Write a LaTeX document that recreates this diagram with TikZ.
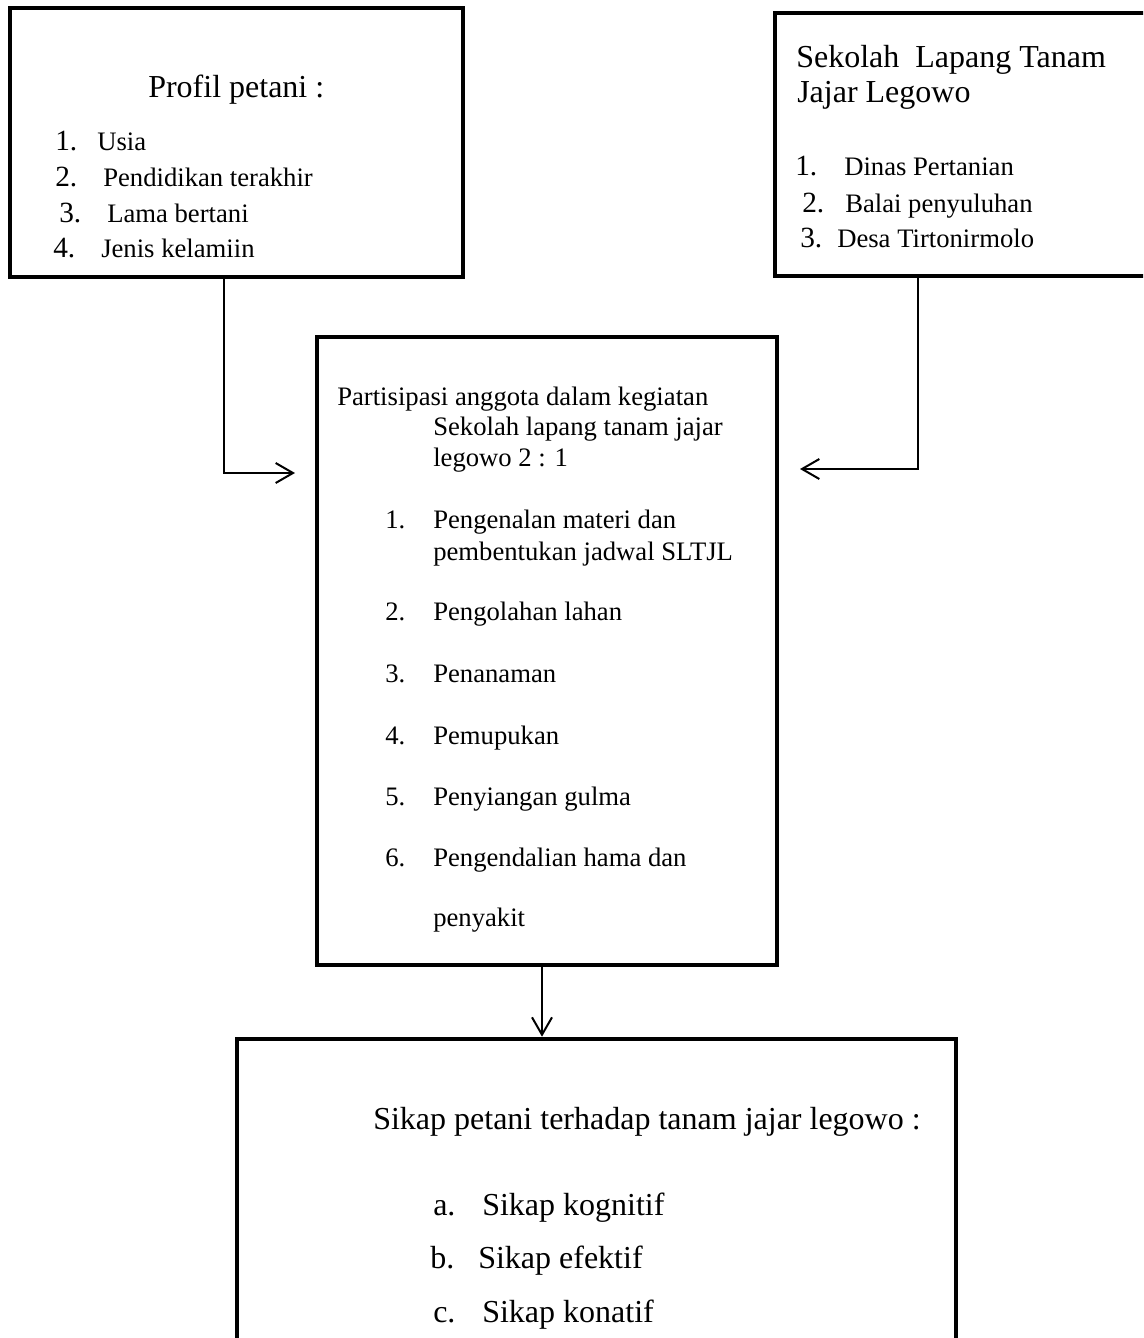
\documentclass[tikz,border=0pt]{standalone}
\usepackage{fontspec}
\setmainfont{Liberation Serif}
\usetikzlibrary{arrows.meta}
\newlength{\pu}\setlength{\pu}{0.75pt}
\tikzset{
  box/.style={draw, line width=3.5pt, inner sep=0pt},
  conn/.style={line width=1.5pt, -{Straight Barb[length=13pt,width=15pt]}},
  hd/.style={anchor=base west, inner sep=0pt, font=\fontsize{24}{28}\selectfont},
  tx/.style={anchor=base west, inner sep=0pt, font=\fontsize{20}{24}\selectfont},
  num/.style={anchor=base west, inner sep=0pt, font=\fontsize{22}{26}\selectfont}
}
\begin{document}
\begin{tikzpicture}[x=0.75pt,y=-0.75pt]
\useasboundingbox (0,0) rectangle (1143,1338);
\clip (0,0) rectangle (1143,1338);
\fill[white] (0,0) rectangle (1143,1338);

% boxes
\node[box, minimum width=453\pu, minimum height=269\pu] (b1) at (236.5,142.5) {};
\node[box, minimum width=385\pu, minimum height=263\pu] (b2) at (967.5,144.5) {};
\node[box, minimum width=460\pu, minimum height=628\pu] (b3) at (547,651) {};
\node[box, minimum width=719\pu, minimum height=321\pu] (b4) at (596.5,1199.5) {};

% box 1 text
\node[hd] (h1) at (148,98) {Profil petani :};
\node[num] (n11) at (55,150) {1.};
\node[tx] (t11) at (97,150) {Usia};
\node[num] (n12) at (55,186) {2.};
\node[tx] (t12) at (103,186) {Pendidikan terakhir};
\node[num] (n13) at (59,222) {3.};
\node[tx] (t13) at (107,222) {Lama bertani};
\node[num] (n14) at (53,257) {4.};
\node[tx] (t14) at (101,257) {Jenis kelamiin};

% box 2 text
\node[hd] (h2a) at (796,68) {Sekolah\ \ Lapang Tanam};
\node[hd] (h2b) at (797,103) {Jajar Legowo};
\node[num] (n21) at (795,175) {1.};
\node[tx] (t21) at (844,175) {Dinas Pertanian};
\node[num] (n22) at (802,212) {2.};
\node[tx] (t22) at (845,212) {Balai penyuluhan};
\node[num] (n23) at (800,247) {3.};
\node[tx] (t23) at (837,247) {Desa Tirtonirmolo};

% box 3 text
\node[tx] (h3a) at (337,405) {Partisipasi anggota dalam kegiatan};
\node[tx] (h3b) at (433,435) {Sekolah lapang tanam jajar};
\node[tx] (h3c) at (433,466) {legowo 2 : 1};
\node[tx] (n31) at (385,528) {1.};
\node[tx] (t31a) at (433,528) {Pengenalan materi dan};
\node[tx] (t31b) at (433,560) {pembentukan jadwal SLTJL};
\node[tx] (n32) at (385,620) {2.};
\node[tx] (t32) at (433,620) {Pengolahan lahan};
\node[tx] (n33) at (385,682) {3.};
\node[tx] (t33) at (433,682) {Penanaman};
\node[tx] (n34) at (385,744) {4.};
\node[tx] (t34) at (433,744) {Pemupukan};
\node[tx] (n35) at (385,805) {5.};
\node[tx] (t35) at (433,805) {Penyiangan gulma};
\node[tx] (n36) at (385,866) {6.};
\node[tx] (t36a) at (433,866) {Pengendalian hama dan};
\node[tx] (t36b) at (433,926) {penyakit};

% box 4 text
\node[hd] (h4) at (373,1129) {Sikap petani terhadap tanam jajar legowo :};
\node[hd] (n41) at (433,1215) {a.};
\node[hd] (t41) at (482,1215) {Sikap kognitif};
\node[hd] (n42) at (430,1268) {b.};
\node[hd] (t42) at (478,1268) {Sikap efektif};
\node[hd] (n43) at (433,1322) {c.};
\node[hd] (t43) at (482,1322) {Sikap konatif};

% connectors
\coordinate (e1) at (295,473);
\coordinate (e2) at (800,469);
\draw[conn] (b1.south -| 224,0) |- (e1);
\draw[conn] (b2.south -| 918,0) |- (e2);
\draw[conn] (b3.south -| 542,0) -- (b4.north -| 542,0);
\end{tikzpicture}
\end{document}
